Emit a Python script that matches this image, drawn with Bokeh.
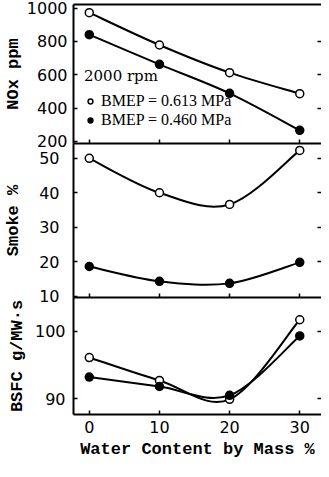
from bokeh.plotting import figure
from bokeh.models import LinearAxis, FixedTicker, Range1d, Legend, LegendItem, ColumnDataSource
from bokeh.layouts import column
from bokeh.embed import file_html
from bokeh.resources import INLINE

# ---- data ----
water = [0, 10, 20, 30]
nox_hi = [972, 778, 612, 486]
nox_lo = [840, 662, 488, 266]
smoke_hi = [50.0, 40.0, 36.6, 52.3]
smoke_lo = [18.6, 14.3, 13.7, 19.8]
bsfc_hi = [96.1, 92.7, 89.9, 101.7]
bsfc_lo = [93.2, 91.8, 90.5, 99.3]

x_ticks = [0, 10, 20, 30]
nox_ticks = [200, 400, 600, 800, 1000]
nox_right_ticks = [400, 600, 800]
smoke_ticks = [10, 20, 30, 40, 50]
smoke_right_ticks = [20, 30, 40, 50]
bsfc_ticks = [90, 100]
bsfc_right_ticks = [90, 100]

legend_title = "2000 rpm"
label_hi = "BMEP = 0.613 MPa"
label_lo = "BMEP = 0.460 MPa"
nox_label = "NOx ppm"
smoke_label = "Smoke %"
bsfc_label = "BSFC g/MW\u00b7s"
x_label = "Water Content by Mass %"

TICK_FONT = "DejaVu Sans"
TITLE_FONT = "Liberation Mono"
X_RANGE = (-2.25, 33.1)
FIG_W = 321
LEFT = 70
OVERLAP = 9


def bezier_source(xs, ys):
    """Catmull-Rom style bezier segments passing through the data points."""
    n = len(xs)
    d = dict(x0=[], y0=[], x1=[], y1=[], cx0=[], cy0=[], cx1=[], cy1=[])
    for i in range(n - 1):
        ip, inx = max(i - 1, 0), min(i + 2, n - 1)
        d["x0"].append(xs[i]); d["y0"].append(ys[i])
        d["x1"].append(xs[i + 1]); d["y1"].append(ys[i + 1])
        d["cx0"].append(xs[i] + (xs[i + 1] - xs[ip]) / 6)
        d["cy0"].append(ys[i] + (ys[i + 1] - ys[ip]) / 6)
        d["cx1"].append(xs[i + 1] - (xs[inx] - xs[i]) / 6)
        d["cy1"].append(ys[i + 1] - (ys[inx] - ys[i]) / 6)
    return ColumnDataSource(d)


def hide_labels(ax):
    ax.major_label_text_font_size = "0px"
    ax.major_label_text_color = None
    ax.major_label_standoff = 0


def make_panel(height, yr, ticks, rticks, btop, bbot, ylabel, std, lstd, last=False, margin=None):
    kw = {}
    if margin is not None:
        kw["margin"] = margin
    p = figure(width=FIG_W, height=height, x_range=Range1d(*X_RANGE), y_range=Range1d(*yr),
               output_backend="svg", toolbar_location=None,
               x_axis_location=None, y_axis_location=None,
               min_border_left=LEFT, min_border_right=0,
               min_border_top=btop, min_border_bottom=bbot, **kw)
    p.outline_line_color = None
    p.xgrid.visible = False
    p.ygrid.visible = False
    p.background_fill_color = None
    p.border_fill_color = None

    la = LinearAxis(ticker=FixedTicker(ticks=ticks), axis_label=ylabel)
    la.axis_line_width = 2
    la.axis_line_color = "black"
    la.major_tick_in = 4
    la.major_tick_out = 0
    la.major_tick_line_width = 1.5
    la.minor_tick_line_color = None
    la.major_label_standoff = std
    la.major_label_text_font = TICK_FONT
    la.major_label_text_font_size = "16px"
    la.major_label_text_color = "black"
    la.axis_label_standoff = lstd
    la.axis_label_text_font = TITLE_FONT
    la.axis_label_text_font_size = "17px"
    la.axis_label_text_font_style = "bold"
    la.axis_label_text_color = "black"
    p.add_layout(la, "left")

    ra = LinearAxis(ticker=FixedTicker(ticks=rticks))
    ra.axis_line_color = None
    ra.major_tick_in = 4
    ra.major_tick_out = 0
    ra.major_tick_line_width = 1.5
    ra.minor_tick_line_color = None
    hide_labels(ra)
    p.add_layout(ra, "right")

    ba = LinearAxis(ticker=FixedTicker(ticks=x_ticks))
    ba.axis_line_width = 2
    ba.axis_line_color = "black"
    ba.major_tick_in = 4
    ba.major_tick_out = 0
    ba.major_tick_line_width = 1.5
    ba.minor_tick_line_color = None
    if last:
        ba.major_label_standoff = 6
        ba.major_label_text_font = TICK_FONT
        ba.major_label_text_font_size = "16px"
        ba.major_label_text_color = "black"
        ba.axis_label = x_label
        ba.axis_label_standoff = 4
        ba.axis_label_text_font = TITLE_FONT
        ba.axis_label_text_font_size = "17px"
        ba.axis_label_text_font_style = "bold"
        ba.axis_label_text_color = "black"
    else:
        hide_labels(ba)
    p.add_layout(ba, "below")
    return p


def add_series(p, ys_hi, ys_lo):
    for ys in (ys_hi, ys_lo):
        p.bezier(x0="x0", y0="y0", x1="x1", y1="y1", cx0="cx0", cy0="cy0", cx1="cx1", cy1="cy1",
                 source=bezier_source(water, ys), line_color="black", line_width=2)
    r_hi = p.scatter(water, ys_hi, marker="circle", size=8, fill_color="white",
                     line_color="black", line_width=1.5)
    r_lo = p.scatter(water, ys_lo, marker="circle", size=8, fill_color="black",
                     line_color="black", line_width=1.5)
    return r_hi, r_lo


# ---- panel 1: NOx ----
p1 = make_panel(152, (187, 1021), nox_ticks, nox_right_ticks, 4, OVERLAP, nox_label, 6, 1)
ta = LinearAxis(ticker=FixedTicker(ticks=[]))
ta.axis_line_width = 2
ta.axis_line_color = "black"
hide_labels(ta)
ta.major_tick_in = 0
ta.major_tick_out = 0
ta.minor_tick_line_color = None
p1.add_layout(ta, "above")
r_hi, r_lo = add_series(p1, nox_hi, nox_lo)
legend = Legend(items=[LegendItem(label=label_hi, renderers=[r_hi]),
                       LegendItem(label=label_lo, renderers=[r_lo])],
                title=legend_title, location=(11, 14))
legend.title_text_font = "DejaVu Serif"
legend.title_text_font_size = "15px"
legend.title_text_font_style = "normal"
legend.title_text_color = "black"
legend.title_standoff = 7
legend.label_text_font = "Liberation Serif"
legend.label_text_font_size = "16px"
legend.label_text_color = "black"
legend.glyph_width = 12
legend.glyph_height = 18
legend.label_height = 18
legend.label_standoff = 5
legend.spacing = 1
legend.padding = 0
legend.margin = 0
legend.background_fill_alpha = 0
legend.border_line_color = None
p1.add_layout(legend)

# ---- panel 2: Smoke ----
p2 = make_panel(163, (9.6, 54.3), smoke_ticks, smoke_right_ticks, 0, OVERLAP, smoke_label, 14, 13,
                margin=(-OVERLAP, 0, 0, 0))
add_series(p2, smoke_hi, smoke_lo)

# ---- panel 3: BSFC ----
p3 = make_panel(164, (87.65, 105.0), bsfc_ticks, bsfc_right_ticks, 0, 41, bsfc_label, 8, 5,
                last=True, margin=(-OVERLAP, 0, 0, 0))
add_series(p3, bsfc_hi, bsfc_lo)

layout = column(p1, p2, p3, spacing=0)
open("out.html", "w").write(file_html(layout, INLINE))
